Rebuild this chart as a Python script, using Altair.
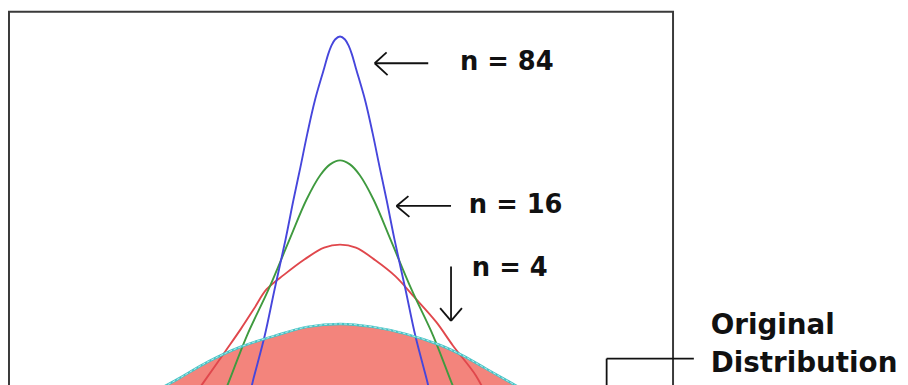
import altair as alt
import pandas as pd

# ---- curve data (x: offset from centre, y: height above hidden baseline) ----
blue_x = [-1.84, -1.76, -1.52, -1.32, -1.10, -0.94, -0.80, -0.66, -0.51, -0.32, -0.24, -0.18, -0.10, 0.00,
          0.10, 0.18, 0.24, 0.32, 0.51, 0.66, 0.80, 0.94, 1.10, 1.32, 1.52, 1.76, 1.84]
blue_y = [0.00, 0.17, 0.63, 1.10, 1.60, 2.00, 2.33, 2.67, 3.00, 3.33, 3.47, 3.55, 3.62, 3.65,
          3.62, 3.55, 3.47, 3.33, 3.00, 2.67, 2.33, 2.00, 1.60, 1.10, 0.63, 0.17, 0.00]

green_x = [-2.38, -2.24, -1.88, -1.44, -1.02, -0.68, -0.40, -0.20, 0.00,
           0.20, 0.40, 0.68, 1.02, 1.44, 1.88, 2.24, 2.38]
green_y = [0.00, 0.17, 0.63, 1.10, 1.60, 2.00, 2.25, 2.36, 2.40,
           2.36, 2.25, 2.00, 1.60, 1.10, 0.63, 0.17, 0.00]

red_x = [-2.98, -2.74, -2.32, -2.00, -1.74, -1.48, -1.12, -0.72, -0.32, 0.00,
         0.32, 0.72, 1.12, 1.50, 1.94, 2.28, 2.74, 2.98]
red_y = [0.00, 0.17, 0.47, 0.70, 0.90, 1.10, 1.25, 1.40, 1.52, 1.55,
         1.52, 1.39, 1.23, 1.02, 0.77, 0.53, 0.23, 0.00]

orig_x = [-4.00, -3.32, -2.66, -2.00, -1.32, -0.66, 0.00, 0.66, 1.32, 2.00, 2.48, 2.94, 3.40, 4.00]
orig_y = [0.00, 0.18, 0.37, 0.52, 0.63, 0.72, 0.75, 0.72, 0.65, 0.54, 0.43, 0.30, 0.17, 0.00]

# ---- annotation labels ----
label_text = ["n = 84", "n = 16", "n = 4"]
label_x = [2.42, 2.60, 2.66]
label_y = [3.31, 1.87, 1.23]

orig_text = ["Original", "Distribution"]
orig_lx = [7.48, 7.48]
orig_ly = [0.65, 0.26]

# arrow / leader segments (x, y, x2, y2)
seg_x = [1.78, 0.70, 0.70, 2.24, 1.14, 1.14, 2.24, 2.24, 2.24, 5.38, 5.38]
seg_y = [3.38, 3.38, 3.38, 1.94, 1.94, 1.94, 1.33, 0.78, 0.78, 0.40, 0.40]
seg_x2 = [0.70, 0.94, 0.96, 1.14, 1.38, 1.40, 2.24, 2.02, 2.46, 7.14, 5.38]
seg_y2 = [3.38, 3.49, 3.26, 1.94, 2.04, 1.83, 0.78, 0.91, 0.91, 0.40, 0.00]

X_DOMAIN = [-6.68, 6.72]
Y_DOMAIN = [0.0, 3.90]

xs = alt.Scale(domain=X_DOMAIN, nice=False, zero=False)
ys = alt.Scale(domain=Y_DOMAIN, nice=False, zero=False)
INTERP = "catmull-rom"


def curve_df(xv, yv):
    return pd.DataFrame({"x": xv, "y": yv})


def enc_line(base):
    return base.encode(
        x=alt.X("x:Q", scale=xs, axis=None),
        y=alt.Y("y:Q", scale=ys, axis=None),
    )


orig_df = curve_df(orig_x, orig_y)

fill = enc_line(alt.Chart(orig_df).mark_area(color="#f3847c", interpolate=INTERP))
orig_line = enc_line(alt.Chart(orig_df).mark_line(color="#45c4c6", strokeWidth=2.5, interpolate=INTERP))
orig_dash = enc_line(alt.Chart(orig_df).mark_line(color="white", strokeWidth=0.8, strokeDash=[3, 2],
                                                  opacity=0.8, interpolate=INTERP))
red_line = enc_line(alt.Chart(curve_df(red_x, red_y)).mark_line(color="#e0474c", strokeWidth=1.9,
                                                                 interpolate=INTERP))
green_line = enc_line(alt.Chart(curve_df(green_x, green_y)).mark_line(color="#3f9a3f", strokeWidth=1.9,
                                                                       interpolate=INTERP))
blue_line = enc_line(alt.Chart(curve_df(blue_x, blue_y)).mark_line(color="#4646dc", strokeWidth=1.9,
                                                                    interpolate=INTERP))

seg_df = pd.DataFrame({"x": seg_x, "y": seg_y, "x2": seg_x2, "y2": seg_y2})
segs = alt.Chart(seg_df).mark_rule(color="#111111", strokeWidth=1.8).encode(
    x=alt.X("x:Q", scale=xs, axis=None),
    y=alt.Y("y:Q", scale=ys, axis=None),
    x2="x2:Q",
    y2="y2:Q",
)

lab_df = pd.DataFrame({"t": label_text, "x": label_x, "y": label_y})
labels = alt.Chart(lab_df).mark_text(
    align="left", baseline="alphabetic", font="DejaVu Sans", fontWeight="bold",
    fontSize=26, color="#111111"
).encode(
    x=alt.X("x:Q", scale=xs, axis=None),
    y=alt.Y("y:Q", scale=ys, axis=None),
    text="t:N",
)

olab_df = pd.DataFrame({"t": orig_text, "x": orig_lx, "y": orig_ly})
olabels = alt.Chart(olab_df).mark_text(
    align="left", baseline="alphabetic", font="DejaVu Sans", fontWeight="bold",
    fontSize=28, color="#111111"
).encode(
    x=alt.X("x:Q", scale=xs, axis=None),
    y=alt.Y("y:Q", scale=ys, axis=None),
    text="t:N",
)

chart = alt.layer(
    fill, red_line, green_line, blue_line, orig_line, orig_dash, segs, labels, olabels
).properties(
    width=670,
    height=390,
    autosize=alt.AutoSizeParams(type="none"),
    padding={"left": 1, "top": 2, "right": 229, "bottom": 0},
).configure(
    background="white"
).configure_view(
    stroke="#3a3a3a", strokeWidth=2
)

chart.save("out.html", embed_options={"renderer": "svg", "actions": False})
